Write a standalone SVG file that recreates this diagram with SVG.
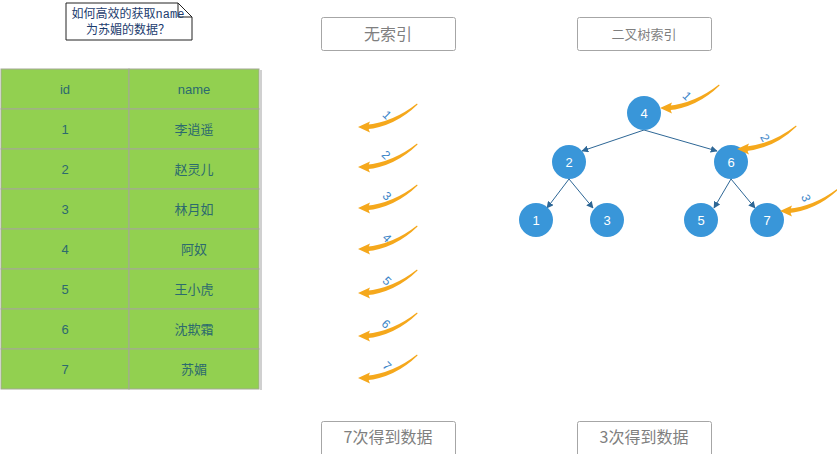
<svg xmlns="http://www.w3.org/2000/svg" width="837" height="454" viewBox="0 0 837 454">
<style>
.cell{fill:#92d050;stroke:#a3a896;stroke-width:1}
.ct{font-family:"Liberation Sans","Noto Sans CJK SC",sans-serif;font-size:13px;fill:#2c6a6e;text-anchor:middle}
.box{fill:#fff;stroke:#a6a6a6;stroke-width:1}
.bt{font-family:"Noto Sans CJK SC","Liberation Sans",sans-serif;fill:#7f7f7f;text-anchor:middle}
.node{fill:#3996d9}
.nt{font-family:"Liberation Sans",sans-serif;font-size:13px;fill:#fff;text-anchor:middle}
.edge{stroke:#2e6796;stroke-width:1;fill:none;marker-end:url(#ah)}
.lab{font-family:"Liberation Sans",sans-serif;font-size:12px;fill:#3a84c8;text-anchor:middle;dominant-baseline:central}
.note{font-family:"Liberation Mono","Noto Sans CJK SC",monospace;font-size:12px;fill:#1c3c6e;text-anchor:middle}
</style>
<defs>
<marker id="ah" viewBox="0 0 10 10" refX="9" refY="5" markerWidth="7" markerHeight="7" orient="auto" markerUnits="userSpaceOnUse">
<path d="M0,0 L10,5 L0,10 Z" fill="#2e6796"/>
</marker>
<g id="oa">
<path d="M59,-23.6 Q35,-4.8 8,-2.3 L8,2.3 Q37,-0.6 59.6,-22.6 Z" fill="#f5a81c"/>
<path d="M0,0 L12,-5.5 Q9,0 12,5.5 Z" fill="#f5a81c"/>
</g>
</defs>

<g id="note">
<path d="M66,3 L178,3 L192,17 L192,40 L66,40 Z" fill="#fff" stroke="#222" stroke-width="1"/>
<path d="M178,3 L178,17 L192,17" fill="none" stroke="#222" stroke-width="1"/>
<text class="note" x="128" y="18">如何高效的获取name</text>
<text class="note" x="128" y="34">为苏媚的数据？</text>
</g>

<g id="table">
<rect x="260" y="70" width="2" height="320" fill="#d0d0d0"/>
<rect class="cell" x="1" y="69" width="128" height="40"/><rect class="cell" x="129" y="69" width="130" height="40"/>
<rect class="cell" x="1" y="109" width="128" height="40"/><rect class="cell" x="129" y="109" width="130" height="40"/>
<rect class="cell" x="1" y="149" width="128" height="40"/><rect class="cell" x="129" y="149" width="130" height="40"/>
<rect class="cell" x="1" y="189" width="128" height="40"/><rect class="cell" x="129" y="189" width="130" height="40"/>
<rect class="cell" x="1" y="229" width="128" height="40"/><rect class="cell" x="129" y="229" width="130" height="40"/>
<rect class="cell" x="1" y="269" width="128" height="40"/><rect class="cell" x="129" y="269" width="130" height="40"/>
<rect class="cell" x="1" y="309" width="128" height="40"/><rect class="cell" x="129" y="309" width="130" height="40"/>
<rect class="cell" x="1" y="349" width="128" height="40"/><rect class="cell" x="129" y="349" width="130" height="40"/>
<text class="ct" x="65" y="94">id</text><text class="ct" x="194" y="94">name</text>
<text class="ct" x="65" y="134">1</text><text class="ct" x="194" y="134">李逍遥</text>
<text class="ct" x="65" y="174">2</text><text class="ct" x="194" y="174">赵灵儿</text>
<text class="ct" x="65" y="214">3</text><text class="ct" x="194" y="214">林月如</text>
<text class="ct" x="65" y="254">4</text><text class="ct" x="194" y="254">阿奴</text>
<text class="ct" x="65" y="294">5</text><text class="ct" x="194" y="294">王小虎</text>
<text class="ct" x="65" y="334">6</text><text class="ct" x="194" y="334">沈欺霜</text>
<text class="ct" x="65" y="374">7</text><text class="ct" x="194" y="374">苏媚</text>
</g>

<g id="box-noindex"><rect class="box" x="321.5" y="17.5" width="134" height="33" rx="2"/><text class="bt" x="388" y="40" font-size="16">无索引</text></g>
<g id="box-btree"><rect class="box" x="577.5" y="17.5" width="134" height="33" rx="2"/><text class="bt" x="644" y="39" font-size="13">二叉树索引</text></g>
<g id="box-7"><rect class="box" x="321.5" y="421.5" width="134" height="40" rx="2"/><text class="bt" x="388" y="443" font-size="16">7次得到数据</text></g>
<g id="box-3"><rect class="box" x="577.5" y="421.5" width="134" height="40" rx="2"/><text class="bt" x="644" y="443" font-size="16">3次得到数据</text></g>

<g id="connectors">
<line class="edge" x1="644" y1="130" x2="582" y2="151"/>
<line class="edge" x1="644" y1="130" x2="717" y2="151"/>
<line class="edge" x1="569" y1="179" x2="547" y2="208"/>
<line class="edge" x1="569" y1="179" x2="593" y2="208"/>
<line class="edge" x1="731" y1="179" x2="714" y2="208"/>
<line class="edge" x1="731" y1="179" x2="755" y2="208"/>
</g>

<g id="tree-nodes">
<g id="n4"><circle class="node" cx="644" cy="113" r="17"/><text class="nt" x="644" y="118">4</text></g>
<g id="n2"><circle class="node" cx="569" cy="162" r="17"/><text class="nt" x="569" y="167">2</text></g>
<g id="n6"><circle class="node" cx="731" cy="162" r="17"/><text class="nt" x="731" y="167">6</text></g>
<g id="n1"><circle class="node" cx="536" cy="220" r="17"/><text class="nt" x="536" y="225">1</text></g>
<g id="n3"><circle class="node" cx="607" cy="220" r="17"/><text class="nt" x="607" y="225">3</text></g>
<g id="n5"><circle class="node" cx="701" cy="220" r="17"/><text class="nt" x="701" y="225">5</text></g>
<g id="n7"><circle class="node" cx="767" cy="220" r="17"/><text class="nt" x="767" y="225">7</text></g>
</g>

<g id="scan-arrows">
<use href="#oa" x="358" y="127"/><text class="lab" transform="translate(387,115) rotate(45)">1</text>
<use href="#oa" x="358" y="167"/><text class="lab" transform="translate(386,155) rotate(45)">2</text>
<use href="#oa" x="358" y="208"/><text class="lab" transform="translate(387,196) rotate(45)">3</text>
<use href="#oa" x="358" y="249"/><text class="lab" transform="translate(387,238) rotate(45)">4</text>
<use href="#oa" x="358" y="293"/><text class="lab" transform="translate(387,281) rotate(45)">5</text>
<use href="#oa" x="358" y="336"/><text class="lab" transform="translate(386,324) rotate(45)">6</text>
<use href="#oa" x="358" y="378"/><text class="lab" transform="translate(387,366) rotate(45)">7</text>
</g>

<g id="tree-arrows">
<use href="#oa" x="660" y="108"/><text class="lab" transform="translate(687,96) rotate(45)">1</text>
<use href="#oa" x="737" y="149"/><text class="lab" transform="translate(765,138) rotate(60)">2</text>
<use href="#oa" x="780" y="211"/><text class="lab" transform="translate(806,198) rotate(70)">3</text>
</g>
</svg>
